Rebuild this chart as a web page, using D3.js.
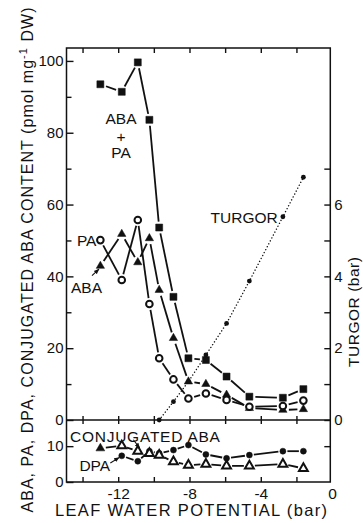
<!DOCTYPE html>
<html>
<head>
<meta charset="utf-8">
<script src="https://cdn.jsdelivr.net/npm/d3@7"></script>
<style>
	body { margin: 0; background: #fff; }
	svg { display: block; }
	text { font-family: 'Liberation Sans', Arial, sans-serif; fill: #111; }
</style>
</head>
<body>
<svg width="363" height="523"></svg>
<script>
// leaf water potential (bar) of each sample
const potential = [-13.0, -11.8, -10.9, -10.25, -9.7, -8.9, -8.06, -7.08, -5.92, -4.64, -2.76, -1.61];
// upper panel, pmol mg-1 DW
const abaPlusPa = [93.5, 91.4, 99.6, 83.6, 53.6, 34.3, 17.2, 16.7, 12.1, 6.5, 6.2, 8.6];
const aba = [42.9, 51.8, 43.9, 50.6, 36.2, 22.8, 10.7, 10.0, 7.0, 3.3, 2.8, 3.0];
const pa = [50.1, 39.0, 55.7, 32.3, 17.2, 11.3, 6.0, 7.4, 5.6, 3.7, 3.9, 5.4];
// turgor (bar), measured from -9.7 bar upwards
const turgorPotential = [-9.7, -8.9, -8.06, -7.08, -5.92, -4.64, -2.76, -1.61];
const turgor = [0, 0.51, 1.07, 1.81, 2.69, 3.87, 5.66, 6.76];
// lower panel
const conjugatedAba = [9.4, 10.1, 8.6, 8.0, 7.5, 5.7, 4.7, 5.0, 4.5, 4.5, 5.0, 3.8];
const dpaPotential = [-11.8, -10.9, -10.25, -9.7, -8.9, -8.06, -7.08, -5.92, -4.64, -2.76, -1.61];
const dpa = [7.3, 5.8, 8.6, 8.0, 8.9, 10.3, 7.7, 6.6, 7.5, 8.6, 8.6];

// ticks
const xTicks = [-14, -12, -10, -8, -6, -4, -2];
const xLabels = [-12, -8, -4, 0];
const leftMajor = [0, 20, 40, 60, 80, 100];
const leftMinor = [10, 30, 50, 70, 90];
const lowTicks = [0, 10];
const turgorMajor = [0, 2, 4, 6];
const turgorMinor = [1, 3, 5, 7];

const svg = d3.select('svg');
const fLeft = 66.5, fRight = 330.3, fTop = 48, fMid = 420, fBottom = 482;

const x = d3.scaleLinear().domain([-14.9, -0.1]).range([fLeft, fRight]);
const yTop = d3.scaleLinear().domain([0, 103.6]).range([fMid, fTop]);
const yTurgor = d3.scaleLinear().domain([0, 10.36]).range([fMid, fTop]);
const yLow = d3.scaleLinear().domain([0, 17.3]).range([fBottom, fMid]);

const fmt = (d) => (d < 0 ? '-' + Math.abs(d) : '' + d);

// frame
svg.append('rect')
	.attr('x', fLeft).attr('y', fTop)
	.attr('width', fRight - fLeft).attr('height', fBottom - fTop)
	.attr('fill', 'none').attr('stroke', '#111').attr('stroke-width', 1.5);
svg.append('line')
	.attr('x1', fLeft).attr('x2', fRight).attr('y1', fMid).attr('y2', fMid)
	.attr('stroke', '#111').attr('stroke-width', 1.5);

const styleAxis = (g, size) => {
	g.select('.domain').remove();
	g.selectAll('line').attr('stroke', '#111').attr('stroke-width', 1.4);
	g.selectAll('text')
		.attr('font-size', size)
		.attr('font-family', "'Liberation Sans', Arial, sans-serif")
		.attr('fill', '#111');
};

// top ticks (inward)
svg.append('g').attr('transform', `translate(0,${fTop})`)
	.call(d3.axisTop(x).tickValues(xTicks).tickSize(-5).tickFormat(''))
	.call(styleAxis, 14);
// middle ticks crossing the 0 line
svg.append('g').attr('transform', `translate(0,${fMid})`)
	.call(d3.axisTop(x).tickValues(xTicks).tickSize(4).tickFormat(''))
	.call(styleAxis, 14);
svg.append('g').attr('transform', `translate(0,${fMid})`)
	.call(d3.axisBottom(x).tickValues(xTicks).tickSize(4).tickFormat(''))
	.call(styleAxis, 14);
// bottom ticks and labels
svg.append('g').attr('transform', `translate(0,${fBottom})`)
	.call(d3.axisBottom(x).tickValues(xTicks).tickSize(-5).tickFormat(''))
	.call(styleAxis, 14);
svg.append('g').attr('transform', `translate(0,${fBottom})`)
	.call(d3.axisBottom(x).tickValues(xLabels).tickSize(0).tickPadding(6).tickFormat(fmt))
	.call(styleAxis, 15.5);

// left axis
svg.append('g').attr('transform', `translate(${fLeft},0)`)
	.call(d3.axisLeft(yTop).tickValues(leftMajor).tickSize(-7).tickPadding(3).tickFormat(fmt))
	.call(styleAxis, 15);
svg.append('g').attr('transform', `translate(${fLeft},0)`)
	.call(d3.axisLeft(yTop).tickValues(leftMinor).tickSize(-5).tickFormat(''))
	.call(styleAxis, 15);
svg.append('g').attr('transform', `translate(${fLeft},0)`)
	.call(d3.axisLeft(yLow).tickValues(lowTicks).tickSize(-7).tickPadding(3).tickFormat(fmt))
	.call(styleAxis, 15);

// right axis (turgor)
svg.append('g').attr('transform', `translate(${fRight},0)`)
	.call(d3.axisRight(yTurgor).tickValues(turgorMajor).tickSize(-6).tickPadding(4).tickFormat(fmt))
	.call(styleAxis, 15);
svg.append('g').attr('transform', `translate(${fRight},0)`)
	.call(d3.axisRight(yTurgor).tickValues(turgorMinor).tickSize(-6).tickFormat(''))
	.call(styleAxis, 15);
svg.append('g').attr('transform', `translate(${fRight},0)`)
	.call(d3.axisRight(yLow).tickValues([10]).tickSize(-6).tickFormat(''))
	.call(styleAxis, 15);

// solid connecting lines, broken around each marker
const drawLine = (xs, ys, yScale, gap) => {
	const pts = xs.map((p, i) => [x(p), yScale(ys[i])]);
	const segs = d3.pairs(pts)
		.map(([a, b]) => {
			const dx = b[0] - a[0], dy = b[1] - a[1];
			const len = Math.hypot(dx, dy);
			const k = gap / len;
			return { len, x1: a[0] + dx * k, y1: a[1] + dy * k, x2: b[0] - dx * k, y2: b[1] - dy * k };
		})
		.filter((s) => s.len > 2 * gap + 1);
	svg.append('g').selectAll('line').data(segs).join('line')
		.attr('x1', (s) => s.x1).attr('y1', (s) => s.y1)
		.attr('x2', (s) => s.x2).attr('y2', (s) => s.y2)
		.attr('stroke', '#111').attr('stroke-width', 1.8);
};

const drawSymbols = (xs, ys, yScale, type, size, filled) => {
	const isFilled = (i) => (typeof filled === 'function' ? filled(i) : filled);
	svg.append('g').selectAll('path').data(xs).join('path')
		.attr('transform', (p, i) => `translate(${x(p)},${yScale(ys[i])})`)
		.attr('d', d3.symbol(type, size))
		.attr('fill', (p, i) => (isFilled(i) ? '#111' : '#fff'))
		.attr('stroke', '#111')
		.attr('stroke-width', (p, i) => (isFilled(i) ? 0.5 : 2));
};

// upper panel
drawLine(potential, abaPlusPa, yTop, 6);
drawLine(potential, aba, yTop, 6);
drawLine(potential, pa, yTop, 6);

// turgor dotted
svg.append('path')
	.datum(turgorPotential.map((p, i) => [x(p), yTurgor(turgor[i])]))
	.attr('d', d3.line())
	.attr('fill', 'none')
	.attr('stroke', '#111')
	.attr('stroke-width', 1.4)
	.attr('stroke-linecap', 'round')
	.attr('stroke-dasharray', '0.1 3.2');
svg.append('g').selectAll('circle').data(turgorPotential).join('circle')
	.attr('cx', (p) => x(p))
	.attr('cy', (p, i) => yTurgor(turgor[i]))
	.attr('r', 2.4)
	.attr('fill', '#111');

drawSymbols(potential, abaPlusPa, yTop, d3.symbolSquare, 49, true);
drawSymbols(potential, aba, yTop, d3.symbolTriangle, 30, true);
drawSymbols(potential, pa, yTop, d3.symbolCircle, Math.PI * 3.3 * 3.3, false);

// lower panel
drawLine(potential, conjugatedAba, yLow, 5.5);
drawLine(dpaPotential, dpa, yLow, 4.5);
drawSymbols(dpaPotential, dpa, yLow, d3.symbolCircle, Math.PI * 3 * 3, true);
drawSymbols(potential, conjugatedAba, yLow, d3.symbolTriangle, 34, (i) => i === 0);

// annotations
const label = (txt, px, py, anchor, size) =>
	svg.append('text')
		.attr('x', px).attr('y', py)
		.attr('text-anchor', anchor)
		.attr('dominant-baseline', 'central')
		.attr('font-size', size)
		.text(txt);

label('ABA', x(-11.84), yTop(84.1), 'middle', 15.5);
label('+', x(-11.84), yTop(78.9), 'middle', 15.5);
label('PA', x(-11.84), yTop(74.4), 'middle', 15.5);
label('PA', x(-13.22), yTop(49.9), 'end', 15.5);
label('ABA', x(-13.78), yTop(36.8), 'middle', 15.5);
label('TURGOR', x(-3.05), yTurgor(5.65), 'end', 15.5);
label('CONJUGATED ABA', x(-10.5), yLow(12.8), 'middle', 15.5).attr('textLength', 150);
label('DPA', x(-12.45), yLow(4.6), 'end', 15.5);

svg.append('defs').append('marker')
	.attr('id', 'head')
	.attr('viewBox', '0 0 10 10')
	.attr('refX', 9).attr('refY', 5)
	.attr('markerWidth', 5).attr('markerHeight', 5)
	.attr('orient', 'auto')
	.append('path').attr('d', 'M0,1 L10,5 L0,9 Z').attr('fill', '#111');

const arrow = (p1, v1, p2, v2, yScale) =>
	svg.append('line')
		.attr('x1', x(p1)).attr('y1', yScale(v1))
		.attr('x2', x(p2)).attr('y2', yScale(v2))
		.attr('stroke', '#111').attr('stroke-width', 1.1)
		.attr('marker-end', 'url(#head)');

arrow(-13.47, 40.2, -13.08, 42.0, yTop);
arrow(-11.15, 11.8, -10.8, 9.5, yLow);
arrow(-12.44, 5.3, -11.95, 6.8, yLow);

// axis titles
svg.append('text')
	.attr('transform', `translate(33,${(5 + 515) / 2}) rotate(-90)`)
	.attr('text-anchor', 'middle')
	.attr('font-size', 16)
	.attr('textLength', 505)
	.attr('lengthAdjust', 'spacing')
	.call((t) => {
		t.append('tspan').text('ABA, PA, DPA, CONJUGATED ABA CONTENT (pmol mg');
		t.append('tspan').attr('baseline-shift', 'super').attr('font-size', 11).text('-1');
		t.append('tspan').text(' DW)');
	});

svg.append('text')
	.attr('transform', `translate(359,312) rotate(-90)`)
	.attr('text-anchor', 'middle')
	.attr('font-size', 15.5)
	.attr('textLength', 110)
	.attr('lengthAdjust', 'spacing')
	.text('TURGOR (bar)');

svg.append('text')
	.attr('x', 191).attr('y', 516)
	.attr('text-anchor', 'middle')
	.attr('font-size', 16.5)
	.attr('textLength', 272)
	.attr('lengthAdjust', 'spacing')
	.text('LEAF WATER POTENTIAL (bar)');
</script>
</body>
</html>
